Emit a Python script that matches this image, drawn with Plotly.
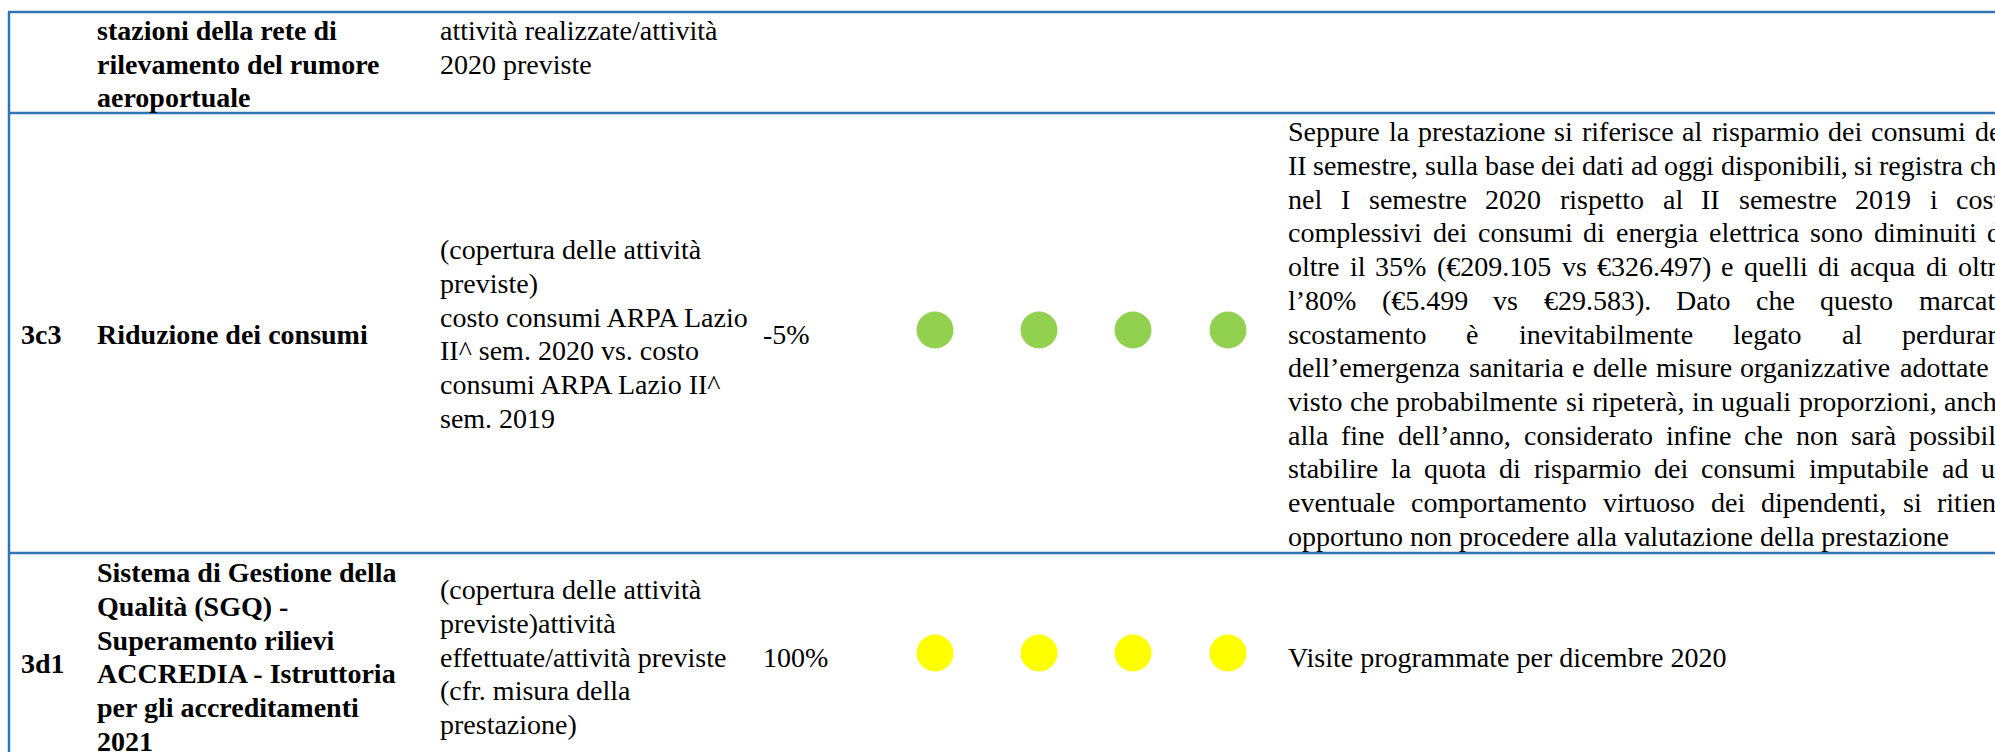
import plotly.graph_objects as go

# ---------------- data ----------------
codes = ["", "3c3", "3d1"]
obiettivi = [
    ["stazioni della rete di", "rilevamento del rumore", "aeroportuale"],
    ["Riduzione dei consumi"],
    ["Sistema di Gestione della", "Qualità (SGQ) -", "Superamento rilievi",
     "ACCREDIA - Istruttoria", "per gli accreditamenti", "2021"],
]
indicatori = [
    ["attività realizzate/attività", "2020 previste"],
    ["(copertura delle attività", "previste)", "costo consumi ARPA Lazio",
     "II^ sem. 2020 vs. costo", "consumi ARPA Lazio II^", "sem. 2019"],
    ["(copertura delle attività", "previste)attività", "effettuate/attività previste",
     "(cfr. misura della", "prestazione)"],
]
target = ["", "-5%", "100%"]
semafori = [[], ["#92D050", "#92D050", "#92D050", "#92D050"],
            ["#FFFF00", "#FFFF00", "#FFFF00", "#FFFF00"]]
note = [
    [],
    ["Seppure la prestazione si riferisce al risparmio dei consumi del",
     "II semestre, sulla base dei dati ad oggi disponibili, si registra che",
     "nel I semestre 2020 rispetto al II semestre 2019 i costi",
     "complessivi dei consumi di energia elettrica sono diminuiti di",
     "oltre il 35% (€209.105 vs €326.497) e quelli di acqua di oltre",
     "l’80% (€5.499 vs €29.583). Dato che questo marcato",
     "scostamento è inevitabilmente legato al perdurare",
     "dell’emergenza sanitaria e delle misure organizzative adottate e",
     "visto che probabilmente si ripeterà, in uguali proporzioni, anche",
     "alla fine dell’anno, considerato infine che non sarà possibile",
     "stabilire la quota di risparmio dei consumi imputabile ad un",
     "eventuale comportamento virtuoso dei dipendenti, si ritiene",
     "opportuno non procedere alla valutazione della prestazione"],
    ["Visite programmate per dicembre 2020"],
]

# ---------------- layout constants ----------------
W, H = 1995, 752
FONT = "Liberation Serif, Times New Roman, serif"
FS = 28
LINE_H = 33.7
ROW_LINES = [12, 113, 553]
ROW_CENTER = [64, 334, 657]
CODE_DY = [0, 0, 6]
X_CODE, X_OBJ, X_IND, X_TGT, X_NOTE = 19, 95, 438, 761, 1286
NOTE_RIGHT = 2007
DOT_X = [935, 1039, 1133, 1228]
BORDER = "#2E75B6"

# Times / Liberation Serif advance widths (1/1000 em)
TW = {' ': 250, '%': 833, '(': 333, ')': 333, ',': 250, '-': 333, '.': 250, '/': 278,
      '^': 469, '’': 333, '€': 500, ':': 278,
      'A': 722, 'B': 667, 'C': 667, 'D': 722, 'E': 611, 'F': 556, 'G': 722, 'H': 722,
      'I': 333, 'J': 389, 'K': 722, 'L': 611, 'M': 889, 'N': 722, 'O': 722, 'P': 556,
      'Q': 722, 'R': 667, 'S': 556, 'T': 611, 'U': 722, 'V': 722, 'W': 944, 'X': 722,
      'Y': 722, 'Z': 611,
      'a': 444, 'b': 500, 'c': 444, 'd': 500, 'e': 444, 'f': 333, 'g': 500, 'h': 500,
      'i': 278, 'j': 278, 'k': 500, 'l': 278, 'm': 778, 'n': 500, 'o': 500, 'p': 500,
      'q': 500, 'r': 333, 's': 389, 't': 278, 'u': 500, 'v': 500, 'w': 722, 'x': 500,
      'y': 500, 'z': 444, 'à': 444, 'è': 444, 'é': 444, 'ì': 278, 'ò': 500, 'ù': 500}
for d in "0123456789":
    TW[d] = 500


def tw(s):
    return sum(TW.get(c, 500) for c in s) * FS / 1000.0


annotations = []


def add_text(x, y, s, bold=False):
    annotations.append(dict(
        x=x, y=y, xref="x", yref="y", text=(f"<b>{s}</b>" if bold else s),
        showarrow=False, xanchor="left", yanchor="middle",
        font=dict(family=FONT, size=FS, color="#000000"),
    ))


def block_y(n, center):
    top = center - (n - 1) / 2 * LINE_H
    return [top + i * LINE_H for i in range(n)]


for r in range(3):
    c = ROW_CENTER[r]
    if codes[r]:
        add_text(X_CODE, c + CODE_DY[r], codes[r], bold=True)
    ys_obj = block_y(len(obiettivi[r]), c)
    for y, s in zip(ys_obj, obiettivi[r]):
        add_text(X_OBJ, y, s, bold=True)
    if r == 0:
        ys_ind = [ys_obj[0] + i * LINE_H for i in range(len(indicatori[r]))]
    else:
        ys_ind = block_y(len(indicatori[r]), c)
    for y, s in zip(ys_ind, indicatori[r]):
        add_text(X_IND, y, s)
    if target[r]:
        add_text(X_TGT, c, target[r])
    # justified notes
    lines = note[r]
    ys_note = block_y(len(lines), c)
    for i, (y, s) in enumerate(zip(ys_note, lines)):
        if i == len(lines) - 1:
            add_text(X_NOTE, y, s)
            continue
        words = s.split(" ")
        widths = [tw(w) for w in words]
        gap = (NOTE_RIGHT - X_NOTE - sum(widths)) / (len(words) - 1)
        x = X_NOTE
        for w, wd in zip(words, widths):
            add_text(x, y, w)
            x += wd + gap

fig = go.Figure()

# status dots
for r in range(3):
    cols = semafori[r]
    if cols:
        fig.add_trace(go.Scatter(
            x=DOT_X[:len(cols)], y=[ROW_CENTER[r] - 4] * len(cols),
            mode="markers", marker=dict(size=37, color=cols, line=dict(width=0)),
            hoverinfo="skip", showlegend=False,
        ))

shapes = []
for yl in ROW_LINES:
    shapes.append(dict(type="line", xref="x", yref="y", x0=8, x1=W, y0=yl, y1=yl,
                       line=dict(color=BORDER, width=2.5)))
shapes.append(dict(type="line", xref="x", yref="y", x0=9, x1=9, y0=ROW_LINES[0], y1=H,
                   line=dict(color=BORDER, width=2.5)))

fig.update_layout(
    width=W, height=H, margin=dict(l=0, r=0, t=0, b=0),
    paper_bgcolor="white", plot_bgcolor="white",
    xaxis=dict(range=[0, W], visible=False, fixedrange=True),
    yaxis=dict(range=[H, 0], visible=False, fixedrange=True),
    shapes=shapes, annotations=annotations, showlegend=False,
)

fig.write_html(
    "out.html",
    config={"displayModeBar": False},
    post_script="document.body.style.margin='0';document.body.style.overflow='hidden';",
)
